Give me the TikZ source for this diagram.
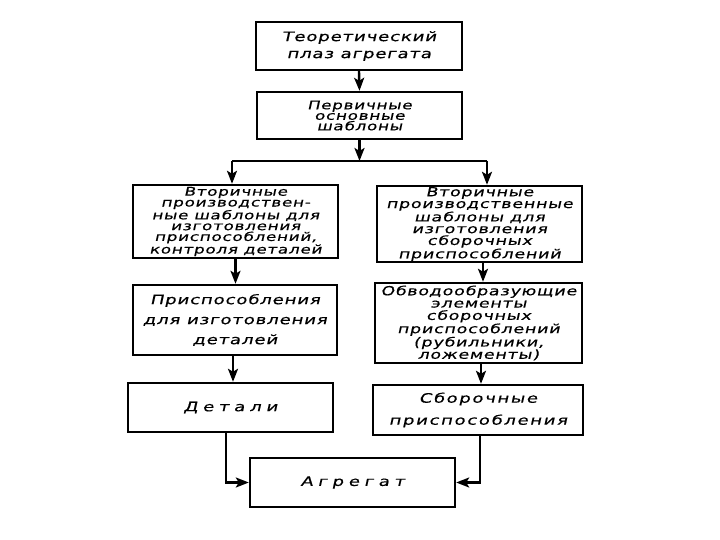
\documentclass[tikz,border=0pt]{standalone}
\usepackage{fontspec}
\usetikzlibrary{arrows.meta}
\newfontfamily\rf[FakeStretch=1.4,FakeSlant=0.22,LetterSpace=6,FakeBold=0.4]{DejaVu Sans}
\newfontfamily\rfw[FakeStretch=1.4,FakeSlant=0.22,LetterSpace=36,FakeBold=0.4]{DejaVu Sans}
\newfontfamily\rfm[FakeStretch=1.4,FakeSlant=0.22,LetterSpace=12,FakeBold=0.4]{DejaVu Sans}
\tikzset{
  box/.style={draw=black, line width=2.4pt, fill=white, align=center, inner sep=0pt,
    font=\rf\fontsize{13}{12}\selectfont},
  arr/.style={line width=2.4pt, -{Stealth[length=13pt,width=10pt,inset=3pt]}},
  ln/.style={line width=2.4pt}
}
\begin{document}
\begin{tikzpicture}[x=1pt,y=-1pt]
\useasboundingbox[fill=white] (0,0) rectangle (720,540);
\node[box, minimum width=206pt, minimum height=48pt, font=\rf\fontsize{13}{17}\selectfont] (b1) at (359,46) {Теоретический\\плаз агрегата};
\node[box, minimum width=205pt, minimum height=47pt, font=\rf\fontsize{12}{10.5}\selectfont] (b2) at (359.5,115.5) {Первичные\\основные\\шаблоны};
\node[box, minimum width=205pt, minimum height=73pt, font=\rf\fontsize{12}{10.8}\selectfont] (b3) at (235.5,221.5) {Вторичные\\производствен-\\ные шаблоны для\\изготовления\\приспособлений,\\контроля деталей};
\node[box, minimum width=205pt, minimum height=76pt, font=\rf\fontsize{12.5}{11.8}\selectfont] (b4) at (479.5,224) {Вторичные\\производственные\\шаблоны для\\изготовления\\сборочных\\приспособлений};
\node[box, minimum width=204pt, minimum height=70pt, font=\rf\fontsize{13}{20}\selectfont] (b5) at (235,320) {Приспособления\\для изготовления\\деталей};
\node[box, minimum width=207pt, minimum height=80pt, font=\rf\fontsize{12.5}{12.3}\selectfont] (b6) at (478.5,323) {Обводообразующие\\элементы\\сборочных\\приспособлений\\(рубильники,\\ложементы)};
\node[box, minimum width=205pt, minimum height=49pt, font=\rfw\fontsize{13}{12}\selectfont] (b7) at (230.5,407.5) {Детали};
\node[box, minimum width=210pt, minimum height=50pt, font=\rfm\fontsize{13}{22}\selectfont] (b8) at (478,410) {Сборочные\\приспособления};
\node[box, minimum width=205pt, minimum height=49pt, font=\rfw\fontsize{13}{12}\selectfont] (b9) at (352.5,482.5) {Агрегат};
\coordinate (sl) at (232,161);
\coordinate (sr) at (487,161);
\draw[arr] (b1.south) -- (b2.north);
\draw[arr] (b2.south) -- (b2.south |- sl);
\draw[ln] (sl) -- (sr);
\draw[arr] (sl) -- (sl |- b3.north);
\draw[arr] (sr) -- (sr |- b4.north);
\draw[arr] (b3.south) -- (b3.south |- b5.north);
\draw[arr] ([xshift=-2pt]b5.south) -- ([xshift=-2pt]b5.south |- b7.north);
\draw[arr] ([xshift=3.5pt]b4.south) -- ([xshift=3.5pt]b4.south |- b6.north);
\draw[arr] ([xshift=2.5pt]b6.south) -- ([xshift=2.5pt]b6.south |- b8.north);
\draw[arr] ([xshift=-4.5pt]b7.south) |- (b9.west);
\draw[arr] ([xshift=2pt]b8.south) |- (b9.east);
\end{tikzpicture}
\end{document}
